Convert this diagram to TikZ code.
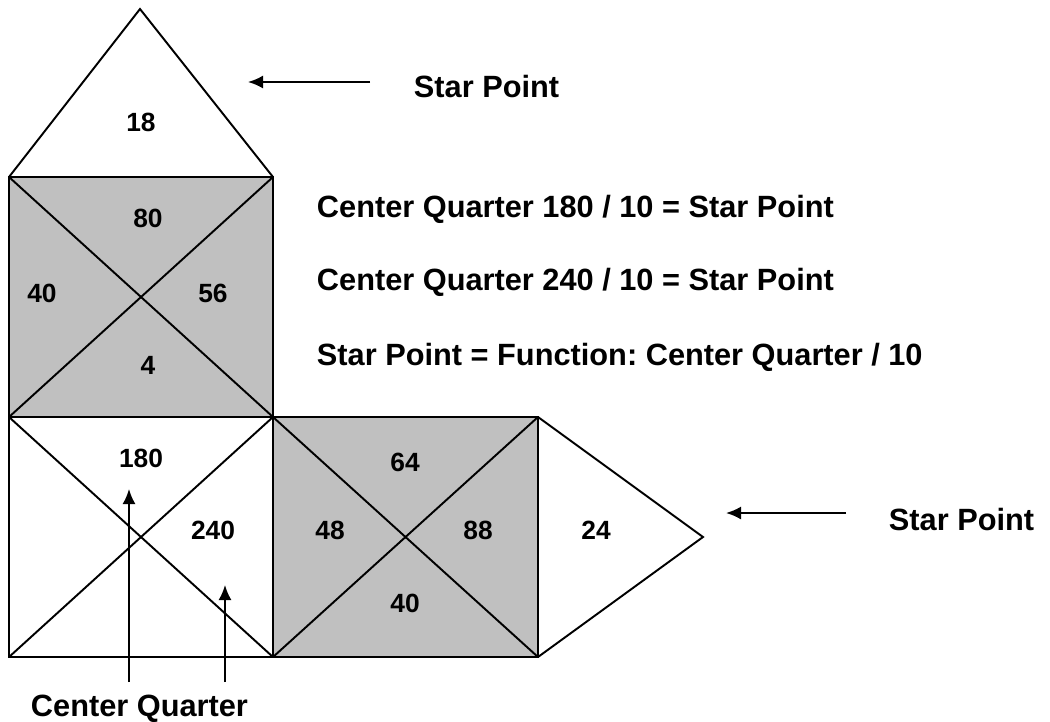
\documentclass[tikz,border=0pt]{standalone}
\usepackage{fontspec}
\setmainfont{Liberation Sans}
\usetikzlibrary{arrows.meta}
\definecolor{boxgrey}{RGB}{192,192,192}
\frenchspacing

\begin{document}
\begin{tikzpicture}[x=0.02cm, y=-0.02cm, line width=1.1pt,
    num/.style={font=\fontsize{15}{17}\selectfont\bfseries},
    txt/.style={font=\fontsize{17.5}{21}\selectfont\bfseries, inner sep=0pt},
    pointer/.style={-{Latex[length=0.3cm, width=0.26cm]}, line width=1.1pt}]
\useasboundingbox (0,0) rectangle (1050,721);
    % corners
    \coordinate (a) at (140,9);
    \coordinate (b1) at (9,177);
    \coordinate (b2) at (273,177);
    \coordinate (c1) at (9,417);
    \coordinate (c2) at (273,417);
    \coordinate (c3) at (538,417);
    \coordinate (d1) at (9,657);
    \coordinate (d2) at (273,657);
    \coordinate (d3) at (538,657);
    \coordinate (e) at (703,537);
    % shapes
    \filldraw[fill=boxgrey] (b1) rectangle (c2);
    \filldraw[fill=boxgrey] (c2) rectangle (d3);
    \draw (b1) -- (a) -- (b2);
    \draw (c1) rectangle (d2);
    \draw (c3) -- (e) -- (d3);
    \draw (b1) -- (c2) (b2) -- (c1);
    \draw (c1) -- (d2) (c2) -- (d1);
    \draw (c2) -- (d3) (c3) -- (d2);
    % numbers
    \node[num] (n18) at (141,122) {18};
    \node[num] (n80) at (148,218) {80};
    \node[num] (n40a) at (42,293) {40};
    \node[num] (n56) at (213,293) {56};
    \node[num] (n4) at (148,365) {4};
    \node[num] (n180) at (141,458) {180};
    \node[num] (n240) at (213,530) {240};
    \node[num] (n64) at (405,462) {64};
    \node[num] (n48) at (330,530) {48};
    \node[num] (n88) at (478,530) {88};
    \node[num] (n40b) at (405,603) {40};
    \node[num] (n24) at (596,530) {24};
    % texts
    \node[txt, anchor=base west] (sp1) at (413,97) {Star Point};
    \node[txt, anchor=base west] (sp2) at (888,530) {Star Point};
    \node[txt, anchor=base west] (l1) at (316,217) {Center Quarter 180 / 10 = Star Point};
    \node[txt, anchor=base west] (l2) at (316,290) {Center Quarter 240 / 10 = Star Point};
    \node[txt, anchor=base west] (l3) at (316,365) {Star Point = Function: Center Quarter / 10};
    \node[txt, anchor=base west] (cq) at (30,716) {Center Quarter};
    % pointers
    \coordinate (p1) at (370,82);
    \coordinate (q1) at (248,82);
    \coordinate (p2) at (846,513);
    \coordinate (q2) at (726,513);
    \coordinate (p3) at (129,682);
    \coordinate (q3) at (129,489);
    \coordinate (p4) at (225,682);
    \coordinate (q4) at (225,585);
    \draw[pointer] (p1) -- (q1);
    \draw[pointer] (p2) -- (q2);
    \draw[pointer] (p3) -- (q3);
    \draw[pointer] (p4) -- (q4);
\end{tikzpicture}
\end{document}
